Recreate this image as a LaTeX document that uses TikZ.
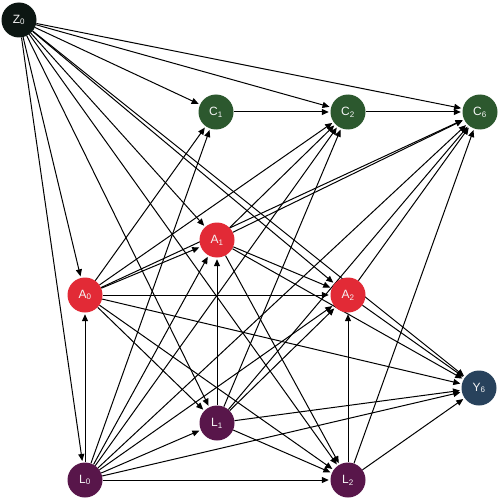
\documentclass[tikz,border=0pt]{standalone}
\usepackage{fontspec}
\setmainfont{Liberation Sans}
\usetikzlibrary{arrows.meta,backgrounds}
\definecolor{zc}{RGB}{12,22,18}
\definecolor{cc}{RGB}{44,88,46}
\definecolor{ac}{RGB}{226,42,54}
\definecolor{lc}{RGB}{88,22,74}
\definecolor{yc}{RGB}{40,66,92}
\begin{document}
\begin{tikzpicture}[x=1pt,y=-1pt,
 vert/.style={circle,minimum size=35pt,inner sep=0pt,text=white!92!gray,font=\fontsize{12}{14}\selectfont},
 edge/.style={-{Triangle[length=7pt,width=6pt]},line width=1pt,shorten >=1.5pt}]
\useasboundingbox (0,0) rectangle (500,500);
\node[vert,fill=zc] (Z0) at (19,20) {Z\textsubscript{0}};
\node[vert,fill=cc] (C1) at (216,112) {C\textsubscript{1}};
\node[vert,fill=cc] (C2) at (348,112) {C\textsubscript{2}};
\node[vert,fill=cc] (C6) at (480,112) {C\textsubscript{6}};
\node[vert,fill=ac] (A0) at (85,295) {A\textsubscript{0}};
\node[vert,fill=ac] (A1) at (217,240) {A\textsubscript{1}};
\node[vert,fill=ac] (A2) at (348,295) {A\textsubscript{2}};
\node[vert,fill=lc] (L0) at (85,480) {L\textsubscript{0}};
\node[vert,fill=lc] (L1) at (217,423) {L\textsubscript{1}};
\node[vert,fill=lc] (L2) at (348,480) {L\textsubscript{2}};
\node[vert,fill=yc] (Y6) at (479,388) {Y\textsubscript{6}};
\begin{pgfonlayer}{background}
\fill[white] (0,0) rectangle (500,500);
\foreach \t in {C1,C2,C6,A0,A1,A2,L0,L1,L2,Y6} \draw[edge] (Z0) -- (\t);
\foreach \t in {A0,C1,C2,C6,A1,A2,L1,L2,Y6} \draw[edge] (L0) -- (\t);
\foreach \t in {C1,C2,C6,A1,A2,L1,L2,Y6} \draw[edge] (A0) -- (\t);
\foreach \t in {A1,C2,C6,A2,L2,Y6} \draw[edge] (L1) -- (\t);
\foreach \t in {C2,C6,A2,L2,Y6} \draw[edge] (A1) -- (\t);
\foreach \t in {A2,C6,Y6} \draw[edge] (L2) -- (\t);
\foreach \t in {C6,Y6} \draw[edge] (A2) -- (\t);
\draw[edge] (C1) -- (C2);
\draw[edge] (C2) -- (C6);
\end{pgfonlayer}
\end{tikzpicture}
\end{document}
